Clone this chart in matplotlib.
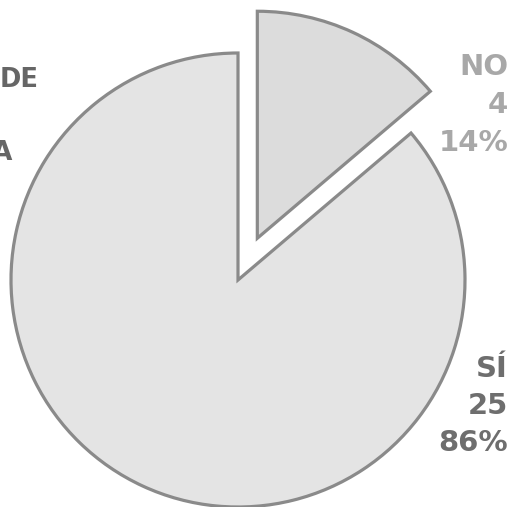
import matplotlib.pyplot as plt

# Data
labels = ['SÍ', 'NO']
counts = [25, 4]
pcts = ['86%', '14%']

W, H = 515, 507
fig = plt.figure(figsize=(W / 100, H / 100), dpi=100)
ax = fig.add_axes([0, 0, 1, 1])

cx, cy, r = 238, H - 280, 227

# NO slice is drawn first (clockwise from 12 o'clock), then SÍ
vals = [counts[1], counts[0]]
wedges, _ = ax.pie(vals,
                   startangle=90,
                   counterclock=False,
                   radius=r,
                   center=(cx, cy),
                   explode=[46, 0],
                   colors=['#dcdcdc', '#e4e4e4'],
                   wedgeprops=dict(edgecolor='#8a8a8a', linewidth=2.3,
                                   joinstyle='miter'),
                   frame=True)

ax.set_xlim(0, W)
ax.set_ylim(0, H)
ax.axis('off')

fz = 21
fam = ['DejaVu Sans']

# labels on the right
ax.text(508, H - 53, f"{labels[1]}\n{counts[1]}\n{pcts[1]}",
        ha='right', va='top', fontsize=fz, fontweight='bold',
        family=fam, color='#a8a8a8', linespacing=1.45)
ax.text(508, H - 355, f"{labels[0]}\n{counts[0]}\n{pcts[0]}",
        ha='right', va='top', fontsize=fz, fontweight='bold',
        family=fam, color='#6e6e6e', linespacing=1.4)

# title cut off on the left edge
ax.text(39, H - 80, "DE", ha='right', va='center', fontsize=18.5,
        fontweight='bold', family=fam, color='#666666')
ax.text(12, H - 153, "A", ha='right', va='center', fontsize=19,
        fontweight='bold', family=fam, color='#666666')

plt.savefig('out.png', dpi=100)
